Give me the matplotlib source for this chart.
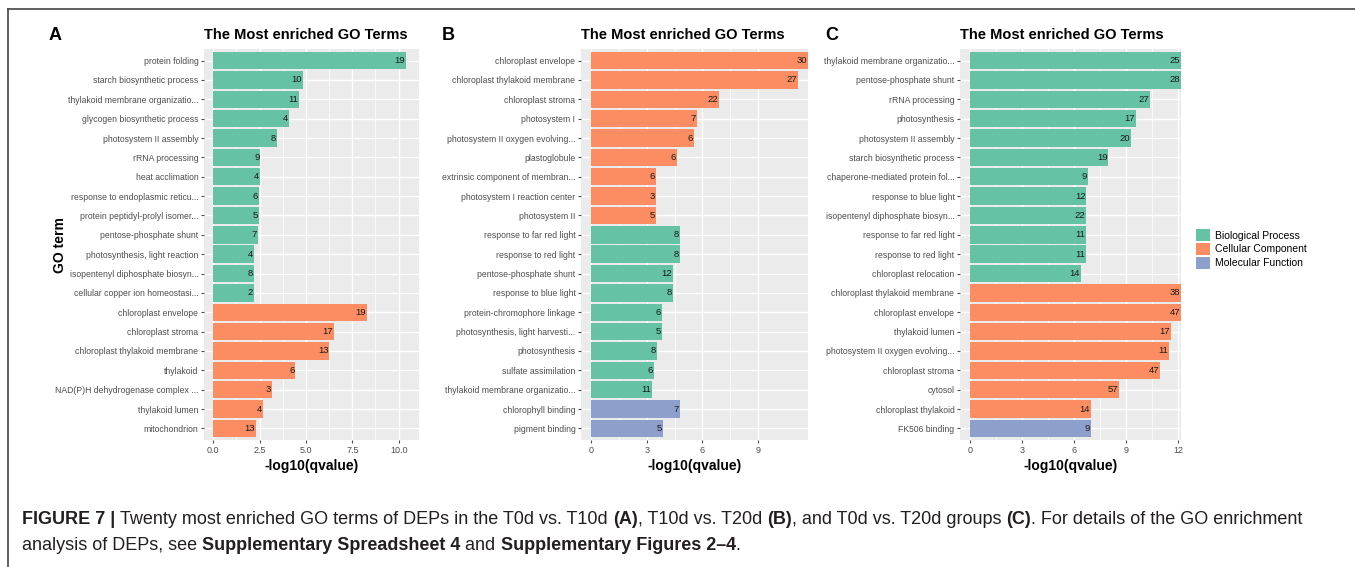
import matplotlib
matplotlib.use("Agg")
import matplotlib.pyplot as plt
from matplotlib.patches import Patch
import numpy as np

plt.rcParams['font.family'] = ['Liberation Sans', 'DejaVu Sans']

# ---- data (top to bottom) ----
terms_a = ["protein folding", "starch biosynthetic process", "thylakoid membrane organizatio...",
           "glycogen biosynthetic process", "photosystem II assembly", "rRNA processing",
           "heat acclimation", "response to endoplasmic reticu...", "protein peptidyl-prolyl isomer...",
           "pentose-phosphate shunt", "photosynthesis, light reaction", "isopentenyl diphosphate biosyn...",
           "cellular copper ion homeostasi...", "chloroplast envelope", "chloroplast stroma",
           "chloroplast thylakoid membrane", "thylakoid", "NAD(P)H dehydrogenase complex ...",
           "thylakoid lumen", "mitochondrion"]
qval_a = [10.4, 4.83, 4.65, 4.1, 3.45, 2.54, 2.5, 2.47, 2.47, 2.4, 2.2, 2.2, 2.2,
          8.3, 6.5, 6.27, 4.43, 3.17, 2.68, 2.3]
count_a = [19, 10, 11, 4, 8, 9, 4, 6, 5, 7, 4, 8, 2, 19, 17, 13, 6, 3, 4, 13]
type_a = ["BP"] * 13 + ["CC"] * 7

terms_b = ["chloroplast envelope", "chloroplast thylakoid membrane", "chloroplast stroma",
           "photosystem I", "photosystem II oxygen evolving...", "plastoglobule",
           "extrinsic component of membran...", "photosystem I reaction center", "photosystem II",
           "response to far red light", "response to red light", "pentose-phosphate shunt",
           "response to blue light", "protein-chromophore linkage", "photosynthesis, light harvesti...",
           "photosynthesis", "sulfate assimilation", "thylakoid membrane organizatio...",
           "chlorophyll binding", "pigment binding"]
qval_b = [11.7, 11.15, 6.9, 5.7, 5.55, 4.63, 3.5, 3.5, 3.5, 4.8, 4.8, 4.42, 4.42,
          3.8, 3.8, 3.55, 3.4, 3.27, 4.8, 3.87]
count_b = [30, 27, 22, 7, 6, 6, 6, 3, 5, 8, 8, 12, 8, 6, 5, 8, 6, 11, 7, 5]
type_b = ["CC"] * 9 + ["BP"] * 9 + ["MF"] * 2

terms_c = ["thylakoid membrane organizatio...", "pentose-phosphate shunt", "rRNA processing",
           "photosynthesis", "photosystem II assembly", "starch biosynthetic process",
           "chaperone-mediated protein fol...", "response to blue light", "isopentenyl diphosphate biosyn...",
           "response to far red light", "response to red light", "chloroplast relocation",
           "chloroplast thylakoid membrane", "chloroplast envelope", "thylakoid lumen",
           "photosystem II oxygen evolving...", "chloroplast stroma", "cytosol",
           "chloroplast thylakoid", "FK506 binding"]
qval_c = [12.2, 12.2, 10.37, 9.57, 9.28, 7.98, 6.77, 6.7, 6.7, 6.7, 6.7, 6.4,
          12.2, 12.2, 11.58, 11.48, 10.95, 8.58, 6.97, 6.97]
count_c = [25, 28, 27, 17, 20, 19, 9, 12, 22, 11, 11, 14, 38, 47, 17, 11, 47, 57, 14, 9]
type_c = ["BP"] * 12 + ["CC"] * 7 + ["MF"]

colors = {"BP": "#66C2A5", "CC": "#FC8D62", "MF": "#8DA0CB"}
type_names = {"BP": "Biological Process", "CC": "Cellular Component", "MF": "Molecular Function"}

W, H = 1355, 567
fig = plt.figure(figsize=(W / 100, H / 100), dpi=100)

def px_axes(x0, x1, y0, y1):
    return fig.add_axes([x0 / W, 1 - y1 / H, (x1 - x0) / W, (y1 - y0) / H])

def panel(ax, terms, vals, counts, types, xlim, ticks, ticklabels):
    pos = np.arange(1, len(terms) + 1)
    ax.set_facecolor("#EBEBEB")
    ax.barh(pos, vals, height=0.9, color=[colors[t] for t in types], zorder=3)
    for p, v, c in zip(pos, vals, counts):
        ax.text(min(v, xlim[1]) - 0.05, p, str(c), ha="right", va="center",
                fontsize=6.8, color="#1A1A1A", zorder=4, clip_on=True)
    ax.set_xlim(*xlim)
    ax.set_ylim(len(terms) + 0.6, 0.4)
    ax.set_yticks(pos)
    ax.set_yticklabels(terms, fontsize=6.2, color="#4D4D4D")
    ax.set_xticks(ticks)
    ax.set_xticklabels(ticklabels, fontsize=6.5, color="#4D4D4D")
    minor = [(a + b) / 2 for a, b in zip(ticks[:-1], ticks[1:])]
    ax.set_xticks(minor, minor=True)
    ax.grid(True, which="major", color="white", linewidth=1.0, zorder=0)
    ax.grid(True, which="minor", axis="x", color="white", linewidth=0.5, zorder=0)
    ax.tick_params(axis="both", which="major", length=2, color="#4D4D4D", pad=2)
    ax.tick_params(axis="both", which="minor", length=0)
    for s in ax.spines.values():
        s.set_visible(False)
    ax.set_axisbelow(True)
    ax.set_xlabel("-log10(qvalue)", fontsize=10, fontweight="bold", labelpad=3)
    ax.set_title("The Most enriched GO Terms", loc="left", fontsize=10.5,
                 fontweight="bold", pad=7)

ax_a = px_axes(204, 419, 49, 440)
panel(ax_a, terms_a, qval_a, count_a, type_a, (-0.5, 11.1),
      [0, 2.5, 5, 7.5, 10], ["0.0", "2.5", "5.0", "7.5", "10.0"])
fig.text(60 / W, 1 - 245 / H, "GO term", rotation=90, fontsize=10, fontweight="bold",
         ha="center", va="center")

ax_b = px_axes(581, 808, 49, 440)
panel(ax_b, terms_b, qval_b, count_b, type_b, (-0.54, 11.69),
      [0, 3, 6, 9], ["0", "3", "6", "9"])

ax_c = px_axes(960, 1181, 49, 440)
panel(ax_c, terms_c, qval_c, count_c, type_c, (-0.58, 12.16),
      [0, 3, 6, 9, 12], ["0", "3", "6", "9", "12"])

for lab, x in [("A", 55), ("B", 448), ("C", 832)]:
    fig.text(x / W, 1 - 35 / H, lab, fontsize=13, fontweight="bold", ha="center", va="center")

handles = [Patch(facecolor=colors[k], label=type_names[k]) for k in ["BP", "CC", "MF"]]
fig.legend(handles=handles, loc="center left", bbox_to_anchor=(1187 / W, 1 - 249 / H),
           frameon=False, fontsize=7.5, handlelength=1.3, handleheight=1.3,
           handletextpad=0.5, labelspacing=0.25)

# frame lines (top and left)
fig.add_artist(plt.Line2D([8 / W, 1], [1 - 9 / H, 1 - 9 / H], color="#444444", linewidth=1.2))
fig.add_artist(plt.Line2D([8 / W, 8 / W], [0, 1 - 9 / H], color="#444444", linewidth=1.2))

# caption with mixed bold / normal pieces
fig.canvas.draw()
renderer = fig.canvas.get_renderer()

def rich_line(pieces, x_px, y_px, size=13):
    x = x_px
    for txt, bold in pieces:
        t = fig.text(x / W, 1 - y_px / H, txt, fontsize=size, ha="left", va="baseline",
                     fontweight="bold" if bold else "normal", color="#231F20")
        bb = t.get_window_extent(renderer)
        x += bb.width

rich_line([("FIGURE 7 | ", True),
           ("Twenty most enriched GO terms of DEPs in the T0d vs. T10d ", False),
           ("(A)", True), (", T10d vs. T20d ", False), ("(B)", True),
           (", and T0d vs. T20d groups ", False), ("(C)", True),
           (". For details of the GO enrichment", False)], 22, 524)
rich_line([("analysis of DEPs, see ", False), ("Supplementary Spreadsheet 4", True),
           (" and ", False), ("Supplementary Figures 2\u20134", True), (".", False)], 22, 550)

fig.savefig("out.png", dpi=100)
